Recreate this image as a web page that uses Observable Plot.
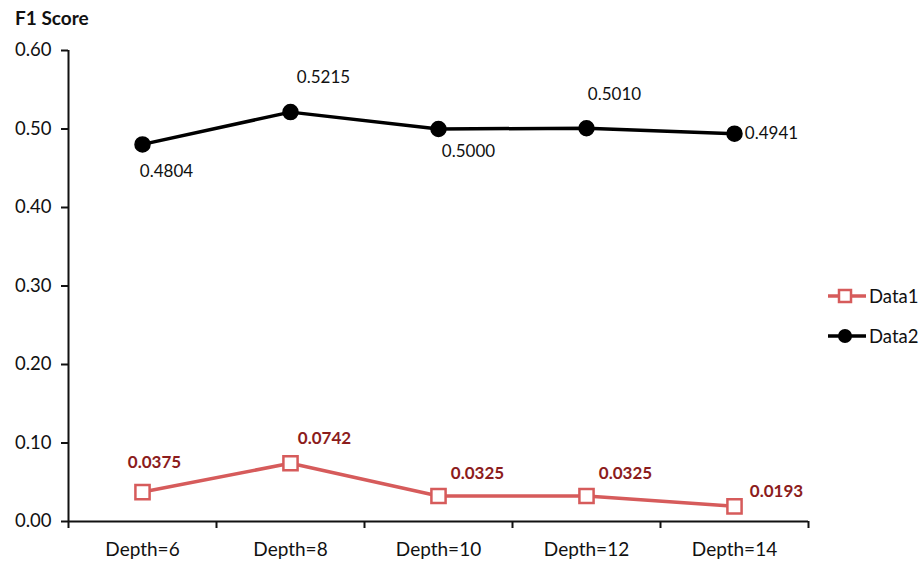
<!DOCTYPE html>
<html>
<head>
<meta charset="utf-8">
<script src="https://cdn.jsdelivr.net/npm/d3@7"></script>
<script src="https://cdn.jsdelivr.net/npm/@observablehq/plot@0.6"></script>
<style>
  body { margin: 0; background: #fff; font-family: Lato, "Open Sans", sans-serif; }
  #wrap { position: relative; width: 922px; height: 562px; }
  #title { height: 34px; font-weight: bold; font-size: 19px; padding-left: 15px; line-height: 36px; box-sizing: border-box; color: #111; }
  #legend { position: absolute; left: 826px; top: 276px; font-size: 18.5px; color: #111; }
  .li { display: flex; align-items: center; height: 40px; }
  .li span { margin-left: 1px; }
</style>
</head>
<body>
<div id="wrap">
  <div id="title">F1 Score</div>
  <div id="chart"></div>
  <div id="legend"></div>
</div>
<script>
const categories = ["Depth=6", "Depth=8", "Depth=10", "Depth=12", "Depth=14"];
const seriesNames = ["Data1", "Data2"];
const data1 = [0.0375, 0.0742, 0.0325, 0.0325, 0.0193];
const data2 = [0.4804, 0.5215, 0.5000, 0.5010, 0.4941];
const yTicks = [0, 0.1, 0.2, 0.3, 0.4, 0.5, 0.6];

// styling: label offsets (pixels) per point
const off1 = [[12, -30], [34, -25], [39, -22], [39, -22], [42, -15]];
const off2 = [[24, 27], [33, -35], [30, 23], [28, -34], [37, 0]];

const red = "#d65b5b";
const darkRed = "#8c1c1c";
const font = "Lato, 'Open Sans', sans-serif";

const rows1 = categories.map((c, i) => ({i, v: data1[i]}));
const rows2 = categories.map((c, i) => ({i, v: data2[i]}));
const bounds = d3.range(0, categories.length + 1).map(k => k - 0.5);
const fmt = d3.format(".4f");

const labelMarks = [];
rows1.forEach((d, k) => labelMarks.push(Plot.text([d], {x: "i", y: "v", text: d => fmt(d.v), dx: off1[k][0], dy: off1[k][1], fill: darkRed, fontWeight: "bold", fontSize: 17})));
rows2.forEach((d, k) => labelMarks.push(Plot.text([d], {x: "i", y: "v", text: d => fmt(d.v), dx: off2[k][0], dy: off2[k][1], fill: "#111", fontSize: 17})));

const chart = Plot.plot({
  width: 922,
  height: 528,
  marginLeft: 68,
  marginRight: 114,
  marginTop: 16,
  marginBottom: 41,
  style: {fontFamily: font, background: "white", color: "#111"},
  x: {type: "linear", domain: [-0.5, categories.length - 0.5], label: null},
  y: {domain: [0, 0.6], label: null},
  marks: [
    Plot.axisY({ticks: yTicks, tickFormat: d3.format(".2f"), tickSize: 7, tickPadding: 10, fontSize: 18.5, strokeWidth: 2, stroke: "#111", label: null}),
    Plot.axisX({ticks: d3.range(categories.length), tickFormat: i => categories[i], tickSize: 0, tickPadding: 21, fontSize: 19, label: null}),
    Plot.axisX({ticks: bounds, tickFormat: () => "", tickSize: 7, strokeWidth: 2, stroke: "#111", label: null}),
    Plot.ruleX([-0.5], {stroke: "#111", strokeWidth: 2}),
    Plot.ruleY([0], {stroke: "#111", strokeWidth: 2}),
    Plot.line(rows2, {x: "i", y: "v", stroke: "#000", strokeWidth: 3.5}),
    Plot.dot(rows2, {x: "i", y: "v", r: 7.5, fill: "#000", stroke: "#000"}),
    Plot.line(rows1, {x: "i", y: "v", stroke: red, strokeWidth: 3.5}),
    Plot.dot(rows1, {x: "i", y: "v", symbol: "square", r: 8, fill: "white", stroke: red, strokeWidth: 2.5}),
    ...labelMarks
  ]
});
document.getElementById("chart").appendChild(chart);

// legend
const legendStyles = [
  {color: red, symbol: "square"},
  {color: "#000", symbol: "circle"}
];
const leg = document.getElementById("legend");
seriesNames.forEach((name, k) => {
  const s = legendStyles[k];
  const div = document.createElement("div");
  div.className = "li";
  const sym = s.symbol === "square"
    ? `<rect x="13" y="6" width="12" height="12" fill="white" stroke="${s.color}" stroke-width="2.5"/>`
    : `<circle cx="19" cy="12" r="7" fill="${s.color}"/>`;
  div.innerHTML = `<svg width="42" height="24"><line x1="2" x2="40" y1="12" y2="12" stroke="${s.color}" stroke-width="3.5"/>${sym}</svg><span>${name}</span>`;
  leg.appendChild(div);
});
</script>
</body>
</html>
